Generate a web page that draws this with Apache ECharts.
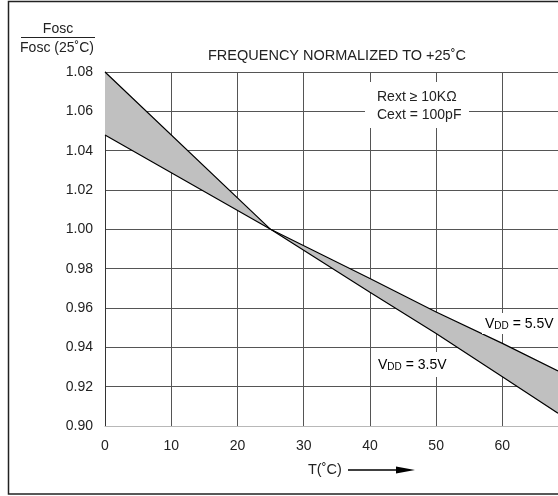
<!DOCTYPE html>
<html>
<head>
<meta charset="utf-8">
<script src="https://cdn.jsdelivr.net/npm/echarts@6/dist/echarts.min.js"></script>
<style>
	html, body { margin: 0; padding: 0; background: #fff; }
	#P1 { width: 558px; height: 496px; }
</style>
</head>
<body>
<div id="P1"></div>
<script>
// temperature points (°C)
var temps = [0, 25, 40, 50, 60, 68.4];
// Fosc / Fosc(25°C)
var vdd35 = [1.080, 1.000, 0.968, 0.947, 0.925, 0.9065];
var vdd55 = [1.048, 1.000, 0.975, 0.958, 0.942, 0.928];
var yTicks = [0.90, 0.92, 0.94, 0.96, 0.98, 1.00, 1.02, 1.04, 1.06, 1.08];
var xTicks = [0, 10, 20, 30, 40, 50, 60];

function pairs(xs, ys) {
	var out = [];
	for (var i = 0; i < xs.length; i++) {
		out.push([xs[i], ys[i]]);
	}
	return out;
}

// plain text element, left aligned, centred on y
function label(x, y, text, size) {
	return {
		type: 'text', z: 50, x: x, y: y,
		style: {
			text: text, fill: '#222',
			font: size + 'px "Liberation Sans", Arial, sans-serif',
			verticalAlign: 'middle'
		}
	};
}

// "VDD = n" with the small DD
function vddLabel(x, y, text) {
	var font = '"Liberation Sans", Arial, sans-serif';
	return {
		type: 'text', z: 50, x: x, y: y,
		style: {
			text: '{a|V}{b|DD}{a| ' + text + '}',
			verticalAlign: 'middle',
			rich: {
				a: { fontSize: 14, fontFamily: font, color: '#222' },
				b: { fontSize: 10, fontFamily: font, color: '#222', verticalAlign: 'bottom' }
			}
		}
	};
}

function echartsP1() {
	var myChart = echarts.init(document.getElementById('P1'));
	var font = '"Liberation Sans", Arial, sans-serif';

	// band between the two curves, one polygon
	var bandRows = [];
	for (var i = 0; i < temps.length; i++) {
		bandRows.push([temps[i], vdd35[i], vdd55[i]]);
	}

	var option = {
		backgroundColor: '#fff',
		animation: false,
		grid: {
			left: 105,
			top: 72,
			right: 0,
			bottom: 70
		},
		xAxis: {
			type: 'value',
			min: 0,
			max: 68.4,
			interval: 10,
			axisLine: { show: true, lineStyle: { color: '#b8b8b8', width: 1 } },
			axisTick: { show: false },
			splitLine: { show: true, lineStyle: { color: '#555', width: 1 } },
			axisLabel: {
				margin: 13,
				color: '#222',
				fontSize: 14,
				fontFamily: font,
				showMaxLabel: false,
				formatter: function(v) {
					return xTicks.indexOf(v) > -1 ? String(v) : '';
				}
			}
		},
		yAxis: {
			type: 'value',
			min: yTicks[0],
			max: yTicks[yTicks.length - 1],
			interval: 0.02,
			axisLine: { show: true, lineStyle: { color: '#333', width: 1 } },
			axisTick: { show: false },
			splitLine: { show: true, lineStyle: { color: '#555', width: 1 } },
			axisLabel: {
				margin: 12,
				color: '#222',
				fontSize: 14,
				fontFamily: font,
				formatter: function(v) {
					return v.toFixed(2);
				}
			}
		},
		series: [{
			name: 'band',
			type: 'custom',
			data: bandRows,
			z: 3,
			renderItem: function(params, api) {
				if (params.dataIndex !== 0) return null;
				var pts = [];
				for (var i = 0; i < bandRows.length; i++) {
					pts.push(api.coord([bandRows[i][0], bandRows[i][1]]));
				}
				for (var j = bandRows.length - 1; j >= 0; j--) {
					pts.push(api.coord([bandRows[j][0], bandRows[j][2]]));
				}
				return {
					type: 'polygon',
					shape: { points: pts },
					style: { fill: '#c0c0c0', stroke: null }
				};
			}
		}, {
			name: 'VDD = 3.5V',
			type: 'line',
			data: pairs(temps, vdd35),
			symbol: 'none',
			z: 4,
			lineStyle: { color: '#000', width: 1.2 }
		}, {
			name: 'VDD = 5.5V',
			type: 'line',
			data: pairs(temps, vdd55),
			symbol: 'none',
			z: 4,
			lineStyle: { color: '#000', width: 1.2 }
		}],
		graphic: [
			// outer frame
			{ type: 'rect', z: 50, shape: { x: 8.5, y: 1.5, width: 560, height: 492.5 },
				style: { fill: null, stroke: '#222', lineWidth: 1.5 } },
			// y axis title as a fraction
			{ type: 'text', z: 50, x: 58, y: 29,
				style: { text: 'Fosc', fill: '#222', font: '14px ' + font, align: 'center', verticalAlign: 'middle' } },
			{ type: 'line', z: 50, shape: { x1: 21, y1: 37.5, x2: 95, y2: 37.5 },
				style: { stroke: '#222', lineWidth: 1 } },
			{ type: 'text', z: 50, x: 57, y: 48,
				style: { text: 'Fosc (25˚C)', fill: '#222', font: '14px ' + font, align: 'center', verticalAlign: 'middle' } },
			// title
			label(208, 56, 'FREQUENCY NORMALIZED TO +25˚C', 14.5),
			// conditions box
			{ type: 'rect', z: 40, shape: { x: 365, y: 82, width: 104, height: 46 },
				style: { fill: '#fff' } },
			label(377, 97, 'Rext ≥ 10KΩ', 14),
			label(377, 115, 'Cext = 100pF', 14),
			// curve labels
			{ type: 'rect', z: 40, shape: { x: 482, y: 313, width: 76, height: 21 },
				style: { fill: '#fff' } },
			vddLabel(485, 324, '= 5.5V'),
			{ type: 'rect', z: 40, shape: { x: 375, y: 352, width: 75, height: 25 },
				style: { fill: '#fff' } },
			vddLabel(378, 365, '= 3.5V'),
			// x axis title with arrow
			label(308, 470, 'T(˚C)', 14.5),
			{ type: 'line', z: 50, shape: { x1: 348, y1: 470, x2: 398, y2: 470 },
				style: { stroke: '#000', lineWidth: 1.5 } },
			{ type: 'polygon', z: 50, shape: { points: [[396, 466.5], [415, 470], [396, 473.5]] },
				style: { fill: '#000' } }
		]
	};
	myChart.setOption(option);
}

echartsP1();
</script>
</body>
</html>
